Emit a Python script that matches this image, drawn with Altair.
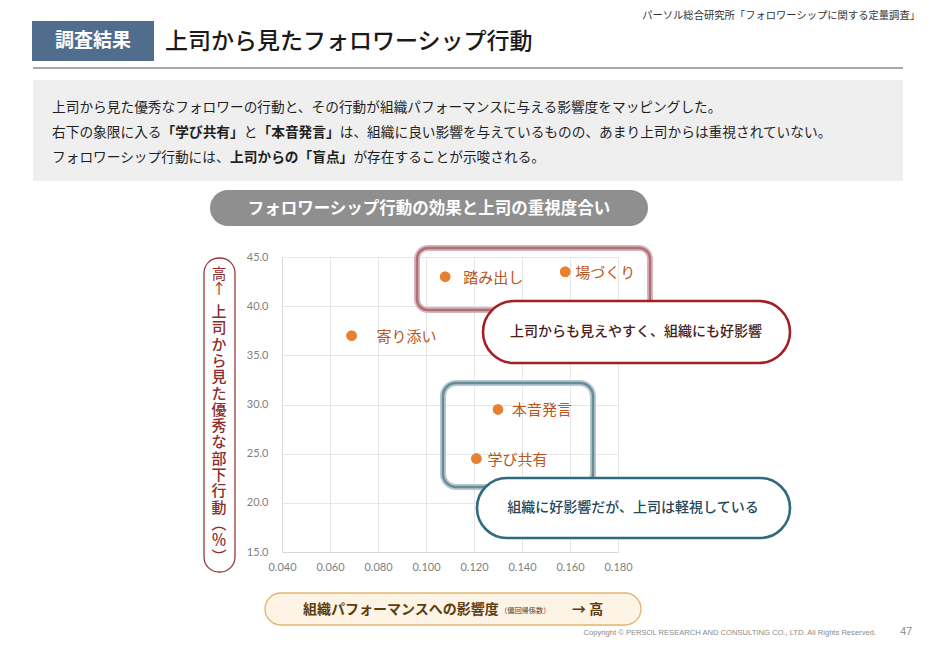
import altair as alt
import pandas as pd

# ---------------- data ----------------
behaviors = ["踏み出し", "場づくり", "寄り添い", "本音発言", "学び共有"]
impact = [0.108, 0.158, 0.069, 0.130, 0.121]          # 組織パフォーマンスへの影響度（偏回帰係数）
supervisor_rating = [43.0, 43.5, 37.0, 29.5, 24.5]    # 上司から見た優秀な部下行動（％）
x_ticks = [0.04, 0.06, 0.08, 0.10, 0.12, 0.14, 0.16, 0.18]
y_ticks = [15, 20, 25, 30, 35, 40, 45]

df = pd.DataFrame({"name": behaviors, "impact": impact, "rating": supervisor_rating})

JP = "Noto Sans CJK JP"
NUM = "Lato"

# plot-area origin on the page (page coordinates)
OX, OY = 282, 257
W, H = 336, 295

ONE = alt.Data(values=[{"k": 1}])


def rect(x1, y1, x2, y2, **kw):
    return alt.Chart(ONE).mark_rect(**kw).encode(
        x=alt.value(x1 - OX), x2=alt.value(x2 - OX),
        y=alt.value(y1 - OY), y2=alt.value(y2 - OY))


def text(x, y, t, **kw):
    kw.setdefault("font", JP)
    return alt.Chart(ONE).mark_text(text=t, **kw).encode(
        x=alt.value(x - OX), y=alt.value(y - OY))


def rule(x1, x2, y, **kw):
    return alt.Chart(ONE).mark_rule(**kw).encode(
        x=alt.value(x1 - OX), x2=alt.value(x2 - OX), y=alt.value(y - OY))


layers = []

# ---------- header ----------
layers.append(rect(32, 21, 154, 61, color="#516d8d"))
layers.append(text(93, 41, "調査結果", fontSize=19, fontWeight="bold", color="white",
                   align="center", baseline="middle"))
layers.append(text(165, 42, "上司から見たフォロワーシップ行動", fontSize=23, color="#1a1a1a",
                   align="left", baseline="middle", fontWeight=500))
layers.append(text(920, 16, "パーソル総合研究所「フォロワーシップに関する定量調査」", fontSize=10.3,
                   color="#333333", align="right", baseline="middle"))
layers.append(rule(33, 903, 68, color="#a8a8a8", strokeWidth=2))

# ---------- summary box ----------
layers.append(rect(33, 80, 903, 181, color="#efefef"))
FS = 13.7
summary = [
    (108, [("上司から見た優秀なフォロワーの行動と、その行動が組織パフォーマンスに与える影響度をマッピングした。", "normal")]),
    (133, [("右下の象限に入る", "normal"), ("「学び共有」", "bold"), ("と", "normal"),
           ("「本音発言」", "bold"),
           ("は、組織に良い影響を与えているものの、あまり上司からは重視されていない。", "normal")]),
    (158, [("フォロワーシップ行動には、", "normal"), ("上司からの「盲点」", "bold"),
           ("が存在することが示唆される。", "normal")]),
]
for y, segs in summary:
    x = 52
    for s, wgt in segs:
        layers.append(text(x, y, s, fontSize=FS, fontWeight=wgt, color="#1f1f1f",
                           align="left", baseline="middle"))
        x += len(s) * FS

# ---------- chart title pill ----------
layers.append(rect(210, 190, 648, 226, color="#8f8f8f", cornerRadius=18))
layers.append(text(429, 209, "フォロワーシップ行動の効果と上司の重視度合い", fontSize=16.5,
                   fontWeight="bold", color="white", align="center", baseline="middle"))

# ---------- y-axis label pill ----------
layers.append(rect(204, 258, 235, 572, fill="white", stroke="#9a3a3a", strokeWidth=1.3,
                   cornerRadius=15))
layers.append(text(219, 268, ["高", "↑"], fontSize=14.5, lineHeight=15, color="#8c2b2b",
                   align="center", baseline="top"))
layers.append(text(219, 305, ["上", "司", "か", "ら", "見", "た", "優", "秀", "な", "部", "下",
                              "行", "動", "︵", "％", "︶"],
                   fontSize=15, lineHeight=16.3, color="#8c2b2b", align="center",
                   baseline="top", fontWeight=500))

# ---------- x-axis label pill ----------
layers.append(rect(265, 593, 641, 625, fill="#fdf4e6", stroke="#e2b46e", strokeWidth=1.3,
                   cornerRadius=16))
layers.append(text(303, 610, "組織パフォーマンスへの影響度", fontSize=14, fontWeight="bold",
                   color="#5c3d12", align="left", baseline="middle"))
layers.append(text(500, 611, "（偏回帰係数）", fontSize=7.2, color="#5c3d12",
                   align="left", baseline="middle"))
layers.append(text(572, 610, "→ 高", fontSize=14, fontWeight="bold", color="#5c3d12",
                   align="left", baseline="middle"))

# ---------- footer ----------
layers.append(text(876, 633, "Copyright © PERSOL RESEARCH AND CONSULTING CO., LTD. All Rights Reserved.",
                   font="Liberation Sans", fontSize=7.6, color="#8a8a8a", align="right",
                   baseline="middle"))
layers.append(text(912, 632, "47", font="Liberation Sans", fontSize=10.5,
                   color="#8a8a8a", align="right", baseline="middle"))

# ---------- scatter ----------
xs = alt.Scale(domain=[0.04, 0.18], nice=False, zero=False)
ys = alt.Scale(domain=[15, 45], nice=False, zero=False)

points = alt.Chart(df).mark_circle(size=110, color="#e8812f", opacity=1).encode(
    x=alt.X("impact:Q", scale=xs,
            axis=alt.Axis(values=x_ticks, format=".3f", title=None, grid=True,
                          gridColor="#e6e6e6", domainColor="#d9d9d9", ticks=False,
                          labelPadding=9, labelColor="#7f7f7f", labelFontSize=11,
                          labelFont=NUM, labelFlush=False, labelOverlap=False)),
    y=alt.Y("rating:Q", scale=ys,
            axis=alt.Axis(values=y_ticks, format=".1f", title=None, grid=True,
                          gridColor="#e6e6e6", domainColor="#d9d9d9", ticks=False,
                          labelPadding=14, labelColor="#7f7f7f", labelFontSize=11,
                          labelFont=NUM, labelFlush=False, labelOverlap=False)),
)

# group frames behind points
layers.append(rect(417, 248, 650, 310, fill=None, filled=False, stroke="#d9b5b9",
                   strokeWidth=6, cornerRadius=11))
layers.append(rect(417, 248, 650, 310, fill=None, filled=False, stroke="#b06f77",
                   strokeWidth=2.4, cornerRadius=11))
layers.append(rect(443, 383, 593, 487, fill=None, filled=False, stroke="#b7c9ce",
                   strokeWidth=6, cornerRadius=13))
layers.append(rect(443, 383, 593, 487, fill=None, filled=False, stroke="#6a8c96",
                   strokeWidth=2.4, cornerRadius=13))

layers.insert(0, points)
layers.append(points)

label_dx = {"踏み出し": 18, "場づくり": 10, "寄り添い": 25, "本音発言": 14, "学び共有": 11}
for n in behaviors:
    layers.append(
        alt.Chart(df).transform_filter(alt.datum.name == n).mark_text(
            align="left", baseline="middle", dx=label_dx[n], dy=1, fontSize=15,
            color="#b9561b", font=JP).encode(
            x=alt.X("impact:Q", scale=xs), y=alt.Y("rating:Q", scale=ys), text="name:N"))

# ---------- callout pills ----------
layers.append(rect(483, 301, 790, 363, fill="white", stroke="#a31f24", strokeWidth=2.6,
                   cornerRadius=31))
layers.append(text(636, 332, "上司からも見えやすく、組織にも好影響", fontSize=14,
                   color="#4a1c1c", align="center", baseline="middle", fontWeight=500))
layers.append(rect(477, 478, 790, 538, fill="white", stroke="#2f6b7e", strokeWidth=2.6,
                   cornerRadius=30))
layers.append(text(633, 508, "組織に好影響だが、上司は軽視している", fontSize=14,
                   color="#26475a", align="center", baseline="middle", fontWeight=500))

chart = alt.layer(*layers).properties(
    width=W, height=H,
    autosize=alt.AutoSizeParams(type="none"),
    padding={"left": OX - 8, "top": OY - 8, "right": 921 - (OX - 8) - W,
             "bottom": 633 - (OY - 8) - H},
    background="white",
).configure_view(stroke=None)

chart.save("out.html", embed_options={"renderer": "svg", "actions": False})
